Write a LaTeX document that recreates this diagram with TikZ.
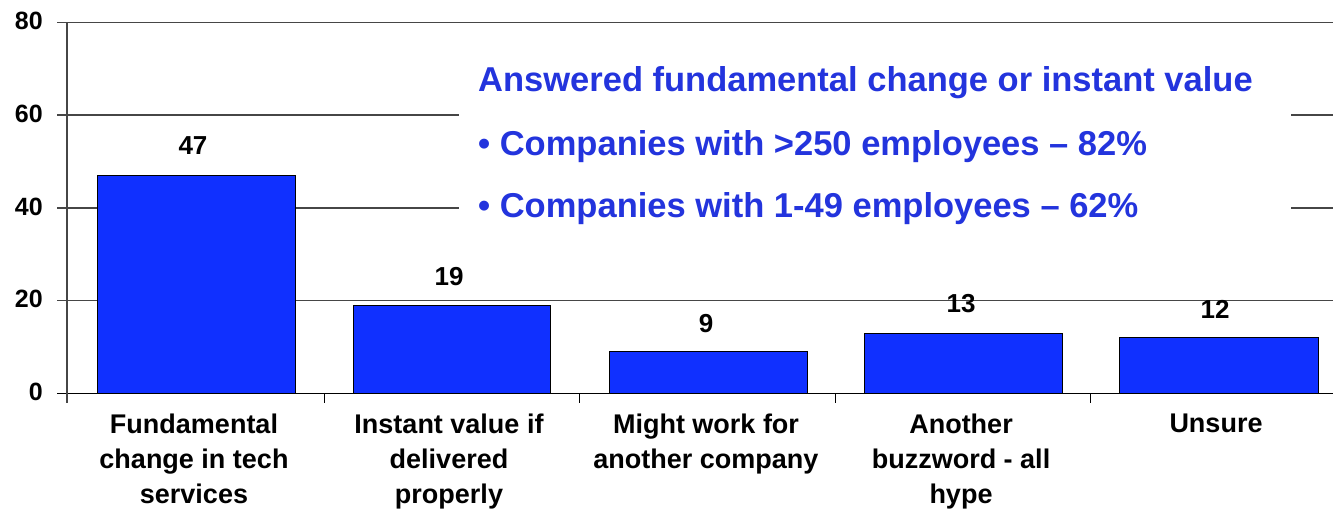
\documentclass[tikz,border=0pt]{standalone}
\usepackage{fontspec}
\setmainfont{Liberation Sans}
\definecolor{barblue}{RGB}{16,48,255}
\definecolor{txtblue}{RGB}{35,52,221}
\definecolor{gridgray}{RGB}{70,70,70}
\tikzset{
  gridline/.style={draw=gridgray, line width=1.4pt},
  axisline/.style={draw=black, line width=1.4pt},
  barbox/.style={fill=barblue, draw=black, line width=0.9pt},
  ylab/.style={anchor=east, inner sep=0pt, font=\fontsize{25}{28}\selectfont\bfseries},
  vlab/.style={anchor=base, inner sep=0pt, font=\fontsize{26}{30}\selectfont\bfseries},
  catlab/.style={anchor=north, inner sep=0pt, align=center, font=\fontsize{27}{35}\selectfont\bfseries},
  note/.style={anchor=base west, inner sep=0pt, text=txtblue, font=\fontsize{34.5}{40}\selectfont\bfseries}
}
\begin{document}
\begin{tikzpicture}[x=1pt,y=-1pt]
\useasboundingbox (0,0) rectangle (1333,511);
% gridlines
\foreach \yy in {22.3,115.0,207.8,300.5}{
  \draw[gridline] (57,\yy) -- (1333,\yy);
}
% white text box
\fill[white] (459,45) rectangle (1291,236);
% bars
\draw[barbox] (97,393.3) rectangle (295,175.3);
\draw[barbox] (353,393.3) rectangle (550,305.2);
\draw[barbox] (609,393.3) rectangle (807,351.6);
\draw[barbox] (864,393.3) rectangle (1062,333.0);
\draw[barbox] (1119,393.3) rectangle (1318,337.6);
% axes
\draw[axisline] (57,393.3) -- (1333,393.3);
\draw[gridline] (67,22.3) -- (67,403);
\foreach \xx in {324,579,835,1090}{
  \draw[axisline, line width=1pt] (\xx,393.3) -- (\xx,403);
}
% y labels
\node[ylab] (y0) at (43,392) {0};
\node[ylab] (y20) at (43,299) {20};
\node[ylab] (y40) at (43,206.5) {40};
\node[ylab] (y60) at (43,113.5) {60};
\node[ylab] (y80) at (43,21) {80};
% value labels
\node[vlab] (v1) at (193,154) {47};
\node[vlab] (v2) at (449,285) {19};
\node[vlab] (v3) at (706,332) {9};
\node[vlab] (v4) at (961,312.5) {13};
\node[vlab] (v5) at (1215,318) {12};
% category labels
\node[catlab] (c1) at (194,413.5) {Fundamental\\change in tech\\services};
\node[catlab] (c2) at (449,413.5) {Instant value if\\delivered\\properly};
\node[catlab] (c3) at (706,413.5) {Might work for\\another company};
\node[catlab] (c4) at (961,413.5) {Another\\buzzword - all\\hype};
\node[catlab] (c5) at (1216,413.5) {Unsure};
% annotation
\node[note] (t0) at (478,92) {Answered fundamental change or instant value};
\node[note] (t1) at (478,155) {• Companies with >250 employees – 82\%};
\node[note] (t2) at (478,217) {• Companies with 1-49 employees – 62\%};
\end{tikzpicture}
\end{document}
